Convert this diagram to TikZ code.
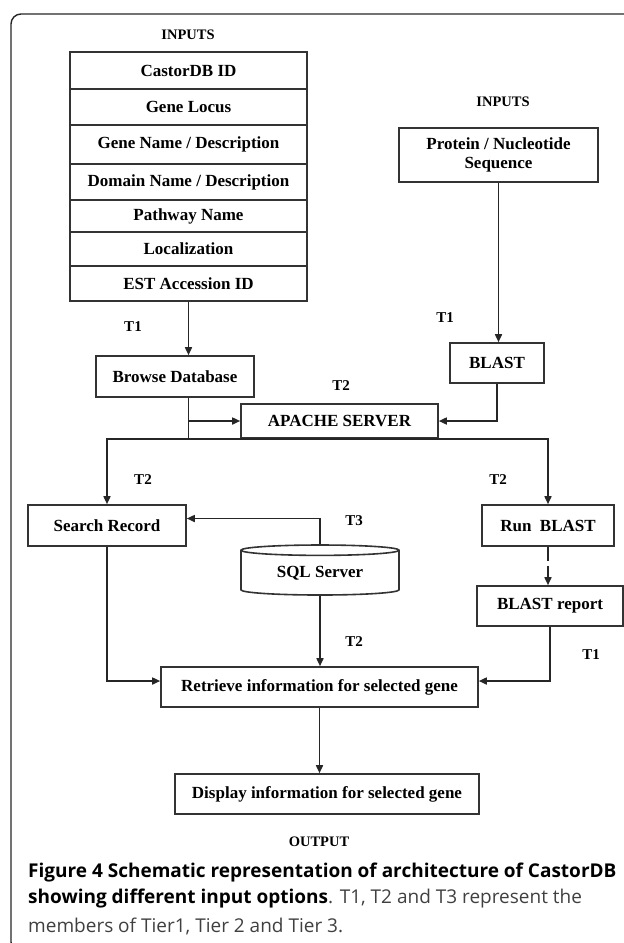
\documentclass[tikz,border=0pt]{standalone}
\usepackage{fontspec}
\setmainfont{Liberation Serif}
\newfontfamily\capfont{Open Sans}
\usetikzlibrary{arrows.meta,shapes.geometric}

\begin{document}
\begin{tikzpicture}[x=1pt,y=-1pt,
    box/.style={rectangle, draw=black!80, line width=1.6pt, inner sep=0pt, align=center, font=\fontsize{17}{19}\selectfont\bfseries},
    tier/.style={font=\fontsize{15}{17}\selectfont\bfseries},
    head/.style={font=\fontsize{14.5}{16}\selectfont\bfseries},
    link/.style={draw=black!85, line width=1.6pt},
    arr/.style={link, -{Triangle[length=8pt,width=7pt]}},
    captext/.style={anchor=west, inner sep=0pt, font=\capfont\fontsize{19}{22}\selectfont}]
  \useasboundingbox (0,0) rectangle (624,943);

  % Frame
  \draw[line width=1.4pt, black!85, rounded corners=10pt] (640,14) -- (11,14) -- (11,952) -- (640,952);

  % Inputs table
  \node[head] (in1) at (188,35) {INPUTS};
  \node[box, minimum width=237, minimum height=37] (r1) at (188.5,70.5) {CastorDB ID};
  \node[box, minimum width=237, minimum height=36] (r2) at (188.5,107) {Gene Locus};
  \node[box, minimum width=237, minimum height=39] (r3) at (188.5,144.5) {Gene Name / Description};
  \node[box, minimum width=237, minimum height=36] (r4) at (188.5,182) {Domain Name / Description};
  \node[box, minimum width=237, minimum height=32] (r5) at (188.5,216) {Pathway Name};
  \node[box, minimum width=237, minimum height=34] (r6) at (188.5,249) {Localization};
  \node[box, minimum width=237, minimum height=35] (r7) at (188.5,283.5) {EST Accession ID};

  % Sequence input
  \node[head] (in2) at (503,102) {INPUTS};
  \node[box, minimum width=199, minimum height=54] (seq) at (498.5,155) {Protein / Nucleotide\\Sequence};

  % Tier 1
  \node[box, minimum width=158, minimum height=41] (browse) at (175,376.5) {Browse Database};
  \node[box, minimum width=94, minimum height=40] (blast) at (497,363) {BLAST};
  \node[tier] (t1a) at (133,327) {T1};
  \node[tier] (t1b) at (445,318) {T1};

  % Server
  \node[box, minimum width=197, minimum height=34] (apache) at (339.5,421) {APACHE SERVER};
  \node[tier] (t2a) at (341,386) {T2};

  % Tier 2 and 3
  \node[box, minimum width=158, minimum height=41] (search) at (107,525.5) {Search Record};
  \node[box, minimum width=132, minimum height=41] (run) at (548,525.5) {Run\ \ BLAST};
  \node[box, cylinder, shape border rotate=90, aspect=0.12, minimum width=158, minimum height=50] (sql) at (320,573) {SQL Server};
  \node[box, minimum width=146, minimum height=40] (report) at (550,606) {BLAST report};
  \node[tier] (t2b) at (143,480) {T2};
  \node[tier] (t2c) at (498,480) {T2};
  \node[tier] (t3) at (354,521) {T3};
  \node[tier] (t2d) at (354,642) {T2};
  \node[tier] (t1c) at (591,655) {T1};

  % Output
  \node[box, minimum width=317, minimum height=40] (retrieve) at (319.5,687) {Retrieve information for selected gene};
  \node[box, minimum width=304, minimum height=40] (display) at (327,794) {Display information for selected gene};
  \node[head] (out) at (319,842) {OUTPUT};

  % Connectors
  \draw[arr] (r7.south) -- (r7.south |- browse.north);
  \draw[arr] (seq.south) -- (seq.south |- blast.north);
  \draw[link] (r7.south |- browse.south) -- (r7.south |- apache.south);
  \draw[arr] (r7.south |- apache.west) -- (apache.west);
  \draw[arr] (blast.south) |- (apache.east);
  \draw[arr] (apache.south) -| (search.north);
  \draw[arr] (apache.south) -| (run.north);
  \draw[arr] (sql.north) |- ([yshift=7pt]search.east);
  \draw[arr, dash pattern=on 14pt off 5pt] (run.south) -- (run.south |- report.north);
  \draw[arr] (search.south) |- ([yshift=6pt]retrieve.west);
  \draw[arr] (report.south) |- ([yshift=6pt]retrieve.east);
  \draw[arr] (sql.south) -- (sql.south |- retrieve.north);
  \draw[arr] (retrieve.south) -- (retrieve.south |- display.north);

  % Caption
  \node[captext] (cap1) at (28,873) {\bfseries Figure 4 Schematic representation of architecture of CastorDB};
  \node[captext] (cap2) at (28,899) {\textbf{showing different input options}\textcolor{black!75}{. T1, T2 and T3 represent the}};
  \node[captext, text=black!75] (cap3) at (28,926) {members of Tier1, Tier 2 and Tier 3.};
\end{tikzpicture}
\end{document}
